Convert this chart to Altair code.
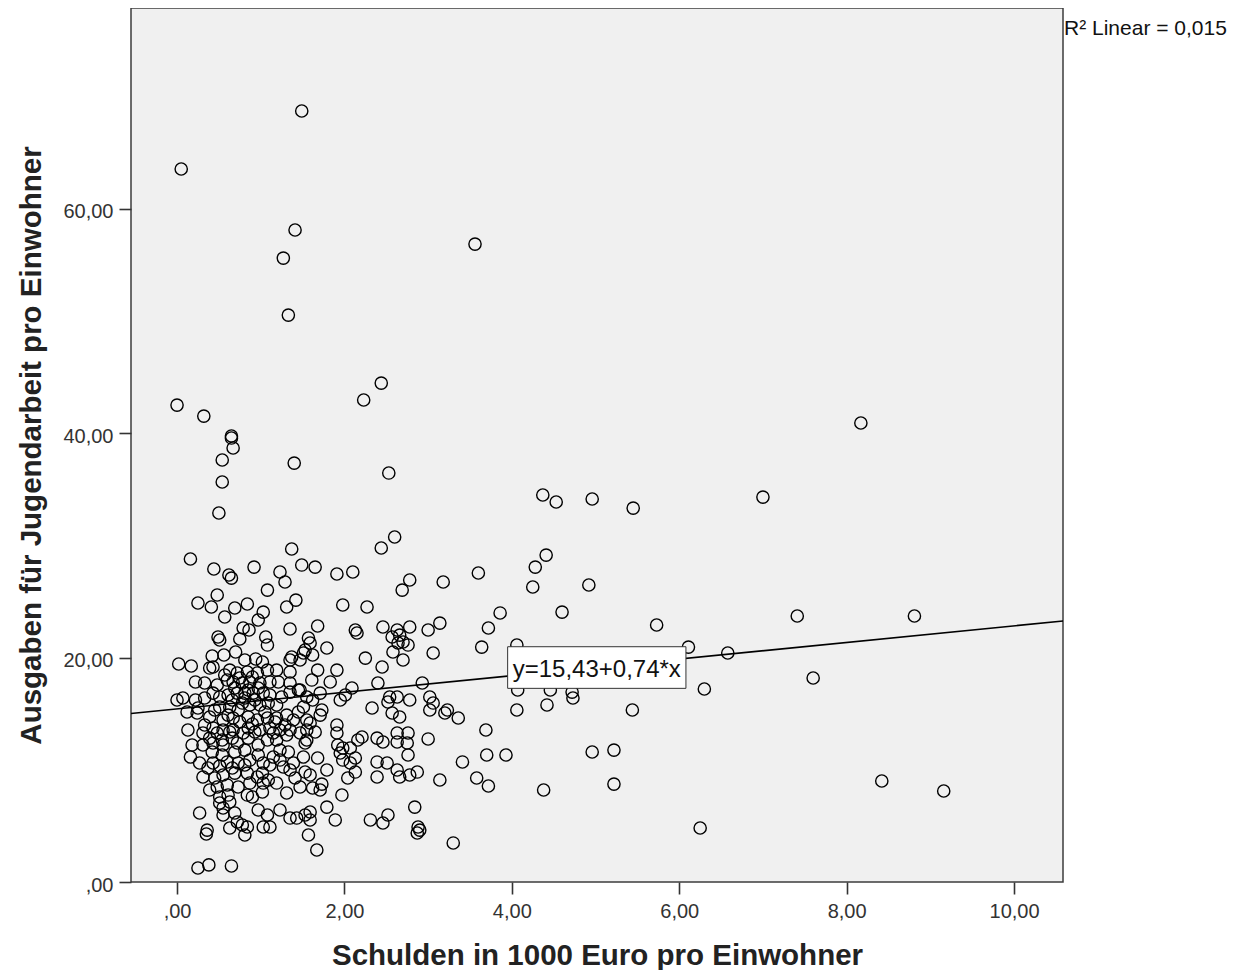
import altair as alt
import pandas as pd

# ---- data (x: Schulden in 1000 Euro, y: Ausgaben Jugendarbeit) ----
debt_upper = [1.49, 0.05, 1.41, 3.56, 1.27, 1.33, 2.44, 2.23, 0.00, 0.32, 8.17, 0.65, 0.65, 0.67, 0.54,
              1.40, 2.53, 0.54, 4.37, 4.53, 4.96, 7.00, 5.45, 0.50, 2.60, 2.44, 1.37, 4.41, 0.16, 4.28,
              0.92, 1.49, 1.65, 0.44, 1.23, 1.91, 2.10, 3.60, 0.62, 0.65, 1.29, 2.78, 3.18, 4.92, 4.25,
              2.69, 1.08, 0.48, 1.42, 1.31, 0.25, 0.41, 0.84, 0.69, 1.98, 2.27, 3.86, 4.60, 7.41, 8.81]
spend_upper = [68.72, 63.55, 58.11, 56.86, 55.61, 50.53, 44.47, 42.96, 42.51, 41.53, 40.91, 39.75, 39.57, 38.68, 37.61,
               37.34, 36.45, 35.65, 34.49, 33.87, 34.14, 34.31, 33.33, 32.89, 30.75, 29.77, 29.68, 29.14, 28.79, 28.07,
               28.07, 28.25, 28.07, 27.90, 27.63, 27.45, 27.63, 27.54, 27.36, 27.09, 26.74, 26.92, 26.74, 26.47, 26.29,
               26.02, 26.02, 25.58, 25.13, 24.51, 24.87, 24.51, 24.78, 24.42, 24.69, 24.51, 23.98, 24.06, 23.71, 23.71]

debt_mid = [1.03, 0.57, 0.97, 3.14, 5.73, 2.13, 2.15, 2.46, 2.63, 2.78, 3.72, 3.00, 1.68, 1.35, 0.79,
            0.86, 0.49, 1.06, 0.75, 2.57, 2.66, 2.70, 2.76, 2.64, 1.57, 1.59, 1.53, 1.62, 1.79, 3.64,
            4.06, 6.11, 6.58, 3.06, 2.58, 2.70, 2.25, 2.45, 1.08, 0.70, 0.42, 0.56, 0.02, 0.17, 0.39,
            0.94, 1.02, 1.37, 1.51, 1.47, 7.60, 6.30, 4.07, 4.46, 4.72, 4.73, 4.42, 4.06, 5.44, 3.23,
            3.36, 1.91, 1.68, 1.83, 2.40, 2.93, 2.09, 2.01, 1.95, 1.71, 1.55, 1.62, 2.54, 2.63, 2.52,
            2.78, 3.02, 3.06, 3.02, 2.33, 2.57, 2.66, 3.20, 1.71, 1.51, 1.55, 1.91, 1.59, 3.69]
spend_mid = [24.06, 23.62, 23.35, 23.08, 22.91, 22.46, 22.19, 22.73, 22.46, 22.73, 22.64, 22.46, 22.82, 22.55, 22.64,
             22.46, 21.84, 21.84, 21.66, 21.84, 22.01, 21.39, 21.12, 21.30, 21.75, 21.30, 20.68, 20.23, 20.86, 20.94,
             21.12, 20.94, 20.41, 20.41, 20.50, 19.79, 19.96, 19.16, 21.12, 20.50, 20.14, 20.23, 19.43, 19.25, 19.07,
             19.88, 19.61, 20.05, 20.41, 19.79, 18.18, 17.20, 17.11, 17.11, 16.93, 16.40, 15.78, 15.33, 15.33, 15.33,
             14.62, 18.89, 18.89, 17.83, 17.74, 17.74, 17.29, 16.67, 16.22, 16.84, 16.49, 16.22, 16.49, 16.49, 16.04,
             16.22, 16.49, 15.95, 15.33, 15.51, 15.06, 14.71, 15.06, 14.88, 15.60, 14.44, 13.99, 14.17, 13.55]

debt_core = [0.51, 0.43, 0.81, 1.35, 0.63, 0.72, 0.84, 0.96, 1.08, 1.19, 1.35, 1.35, 0.22, 0.33, 0.48,
             0.60, 0.67, 0.78, 0.87, 0.99, 1.11, 1.21, 1.35, 1.45, 0.07, 0.22, 0.33, 0.43, 0.51, 0.61,
             0.72, 0.81, 0.91, 1.03, 1.11, 0.51, 0.63, 0.78, 0.87, 0.99, 1.09, 1.19, 0.12, 0.24, 0.39,
             0.55, 0.67, 0.85, 0.96, 1.08, 1.19, 1.31, 1.39, 0.33, 0.43, 0.55, 0.67, 0.85, 0.99, 1.11,
             1.23, 1.35, 1.55, 0.00, 0.25]
spend_core = [21.57, 19.16, 19.79, 19.79, 18.89, 18.63, 18.72, 18.63, 18.89, 18.89, 18.72, 17.74, 17.83, 17.74, 17.56,
              18.00, 17.83, 17.74, 17.83, 17.74, 17.83, 17.83, 16.93, 17.11, 16.40, 16.22, 16.40, 16.84, 16.49, 16.67,
              16.84, 16.84, 16.84, 16.84, 16.67, 15.60, 15.60, 15.95, 15.78, 15.78, 15.95, 15.78, 15.15, 15.06, 14.71,
              14.44, 14.62, 14.71, 14.44, 14.62, 14.62, 14.88, 14.44, 13.99, 13.73, 13.55, 13.55, 13.73, 13.55, 13.73,
              13.55, 13.55, 13.55, 16.22, 15.51]

debt_dense = [0.57, 0.75, 0.90, 0.69, 0.85, 0.97, 0.66, 0.81, 0.93, 0.73, 1.05, 0.45, 0.61, 0.75, 0.90,
              1.17, 1.29, 0.39, 0.54, 0.66, 0.85, 0.97, 0.42, 0.54, 0.69, 0.81, 0.97, 0.37, 0.51, 0.66,
              0.81, 1.23, 1.33, 1.11, 1.41, 1.09, 0.39, 0.97, 0.16, 0.18, 0.13, 1.47, 1.25, 1.45, 1.61,
              1.73]
spend_dense = [18.45, 18.18, 18.27, 17.29, 17.11, 17.29, 16.22, 16.40, 16.22, 15.33, 15.15, 15.33, 14.88, 14.26, 14.08,
               14.26, 13.99, 12.83, 12.66, 12.83, 12.83, 12.21, 11.59, 11.32, 11.59, 11.76, 11.32, 10.16, 10.34, 10.16,
               10.43, 11.76, 11.59, 10.43, 9.27, 9.09, 8.20, 6.42, 11.14, 12.21, 13.55, 17.11, 16.49, 15.15, 18.00,
               15.33]

debt_low = [0.31, 0.48, 0.63, 0.79, 0.93, 1.15, 1.31, 1.47, 0.31, 0.43, 0.55, 0.72, 1.08, 1.19, 0.27,
            0.43, 0.60, 0.73, 0.87, 1.15, 1.23, 1.27, 1.39, 1.35, 1.03, 1.02, 1.51, 1.53, 0.31, 0.45,
            0.55, 0.69, 0.84, 0.96, 0.48, 0.60, 0.73, 0.87, 1.03, 1.19, 1.31, 1.47, 0.51, 0.61, 0.84,
            0.90, 1.02, 0.51, 0.55, 0.63, 0.27, 0.55, 0.69, 0.72, 1.08, 1.23, 1.35, 1.43, 1.53, 0.84,
            0.36, 0.63, 0.78, 1.11, 0.35, 0.25, 0.38, 0.65, 0.81, 1.57]
spend_low = [13.28, 13.28, 13.37, 13.28, 13.37, 13.28, 13.10, 13.28, 12.21, 12.39, 12.21, 12.39, 12.66, 12.66, 10.61,
             10.61, 10.70, 10.61, 10.87, 11.14, 10.87, 10.25, 10.61, 9.98, 10.61, 9.71, 11.14, 9.80, 9.36, 9.27,
             9.54, 9.71, 9.71, 9.36, 8.47, 8.65, 8.47, 8.82, 8.82, 8.82, 7.93, 8.47, 7.58, 7.75, 7.75,
             7.58, 8.02, 7.04, 6.60, 7.13, 6.15, 5.97, 6.15, 5.35, 5.97, 6.42, 5.70, 5.70, 5.97, 4.90,
             4.63, 4.81, 5.08, 4.90, 4.28, 1.25, 1.52, 1.43, 4.19, 4.19]

debt_right = [1.65, 1.55, 1.91, 2.21, 2.16, 2.39, 2.46, 2.63, 2.63, 2.76, 2.75, 3.00, 1.92, 1.98, 2.07,
              1.95, 1.68, 2.13, 1.98, 2.07, 2.76, 3.41, 2.39, 2.51, 1.79, 1.59, 1.62, 1.71, 1.73, 2.13,
              2.04, 2.39, 2.63, 2.66, 2.78, 2.87, 3.14, 3.58, 1.97, 1.79, 1.59, 1.59, 1.89, 2.84, 2.31,
              2.46, 2.52, 2.88, 2.90, 2.87, 1.67, 3.30, 1.53, 1.03,
              5.22, 4.96, 3.93, 3.70, 5.22, 4.38, 8.42, 9.16, 6.25, 3.72]
spend_right = [13.37, 12.66, 13.28, 12.92, 12.66, 12.83, 12.48, 13.28, 12.48, 13.28, 12.39, 12.75, 12.21, 11.94, 11.94,
               11.50, 11.05, 11.05, 10.87, 10.61, 11.32, 10.70, 10.70, 10.61, 9.98, 9.54, 8.38, 8.20, 8.73, 9.80,
               9.27, 9.36, 9.98, 9.36, 9.54, 9.80, 9.09, 9.27, 7.75, 6.68, 6.24, 5.53, 5.53, 6.68, 5.53,
               5.26, 5.97, 4.90, 4.63, 4.37, 2.85, 3.48, 12.39, 4.90,
               11.76, 11.59, 11.32, 11.32, 8.73, 8.20, 9.00, 8.11, 4.81, 8.56]

x_domain = [-0.55, 10.585]
y_domain = [0, 77.9]
x_ticks = [0, 2, 4, 6, 8, 10]
y_ticks = [0, 20, 40, 60]
intercept, slope = 15.43, 0.74
eq_text = "y=15,43+0,74*x"
r2_text = "R\u00b2 Linear = 0,015"
eq_box_x = [3.95, 6.08]
eq_box_y = [17.26, 20.97]
eq_pos = [5.015, 18.30]
x_title = "Schulden in 1000 Euro pro Einwohner"
y_title = "Ausgaben f\u00fcr Jugendarbeit pro Einwohner"

debt = debt_upper + debt_mid + debt_core + debt_dense + debt_low + debt_right
spend = spend_upper + spend_mid + spend_core + spend_dense + spend_low + spend_right
df = pd.DataFrame({"debt": debt, "spend": spend})
fit = pd.DataFrame({"debt": x_domain, "spend": [intercept + slope * v for v in x_domain]})
box = pd.DataFrame({"debt": [eq_box_x[0]], "debt2": [eq_box_x[1]],
                    "spend": [eq_box_y[0]], "spend2": [eq_box_y[1]]})
eq = pd.DataFrame({"debt": [eq_pos[0]], "spend": [eq_pos[1]], "t": [eq_text]})
r2 = pd.DataFrame({"t": [r2_text]})

W, H = 932, 874
label_expr = "datum.value == 0 ? ',00' : replace(format(datum.value, '.2f'), '.', ',')"

x_enc = alt.X("debt:Q",
              scale=alt.Scale(domain=x_domain, nice=False, zero=False),
              axis=alt.Axis(values=x_ticks, labelExpr=label_expr, title=x_title,
                            titleX=W / 2, titleY=82, titleAlign="center",
                            titleBaseline="alphabetic", labelPadding=7))
y_enc = alt.Y("spend:Q",
              scale=alt.Scale(domain=y_domain, nice=False, zero=False),
              axis=alt.Axis(values=y_ticks, labelExpr=label_expr, title=y_title,
                            titleX=-91, titleY=H / 2, titleAngle=270, titleAlign="center",
                            titleBaseline="alphabetic", labelPadding=6, labelOffset=3))

points = alt.Chart(df).mark_point(shape="circle", filled=False, size=150,
                                  stroke="black", strokeWidth=1.4, opacity=1).encode(x=x_enc, y=y_enc)
line = alt.Chart(fit).mark_line(color="black", strokeWidth=1.6).encode(x=x_enc, y=y_enc)
rect = alt.Chart(box).mark_rect(fill="white", stroke="#333333", strokeWidth=1).encode(
    x=x_enc, x2=alt.X2("debt2"), y=y_enc, y2=alt.Y2("spend2"))
eq_label = alt.Chart(eq).mark_text(font="Liberation Sans", fontSize=24, color="#111111",
                                   align="center", baseline="alphabetic").encode(
    x=x_enc, y=y_enc, text="t:N")
r2_label = alt.Chart(r2).mark_text(font="Liberation Sans", fontSize=21, color="#111111",
                                   align="left", baseline="alphabetic").encode(
    x=alt.value(W + 1), y=alt.value(27), text="t:N")

chart = alt.layer(points, line, rect, eq_label, r2_label).properties(
    width=W, height=H,
    padding={"left": 123, "top": 0, "right": 167, "bottom": 88},
    autosize=alt.AutoSizeParams(type="none"),
    background="white",
).configure_view(
    fill="#f0f0f0", stroke="#3c3c3c", strokeWidth=1.5
).configure_axis(
    labelFont="Liberation Sans", labelFontSize=20, labelColor="#333333",
    titleFont="Liberation Sans", titleFontSize=29.5, titleFontWeight="bold", titleColor="#222222",
    tickColor="#333333", tickWidth=1.6, tickSize=12, domain=False, grid=False,
)

chart.save("out.html", embed_options={"renderer": "svg", "actions": False})
